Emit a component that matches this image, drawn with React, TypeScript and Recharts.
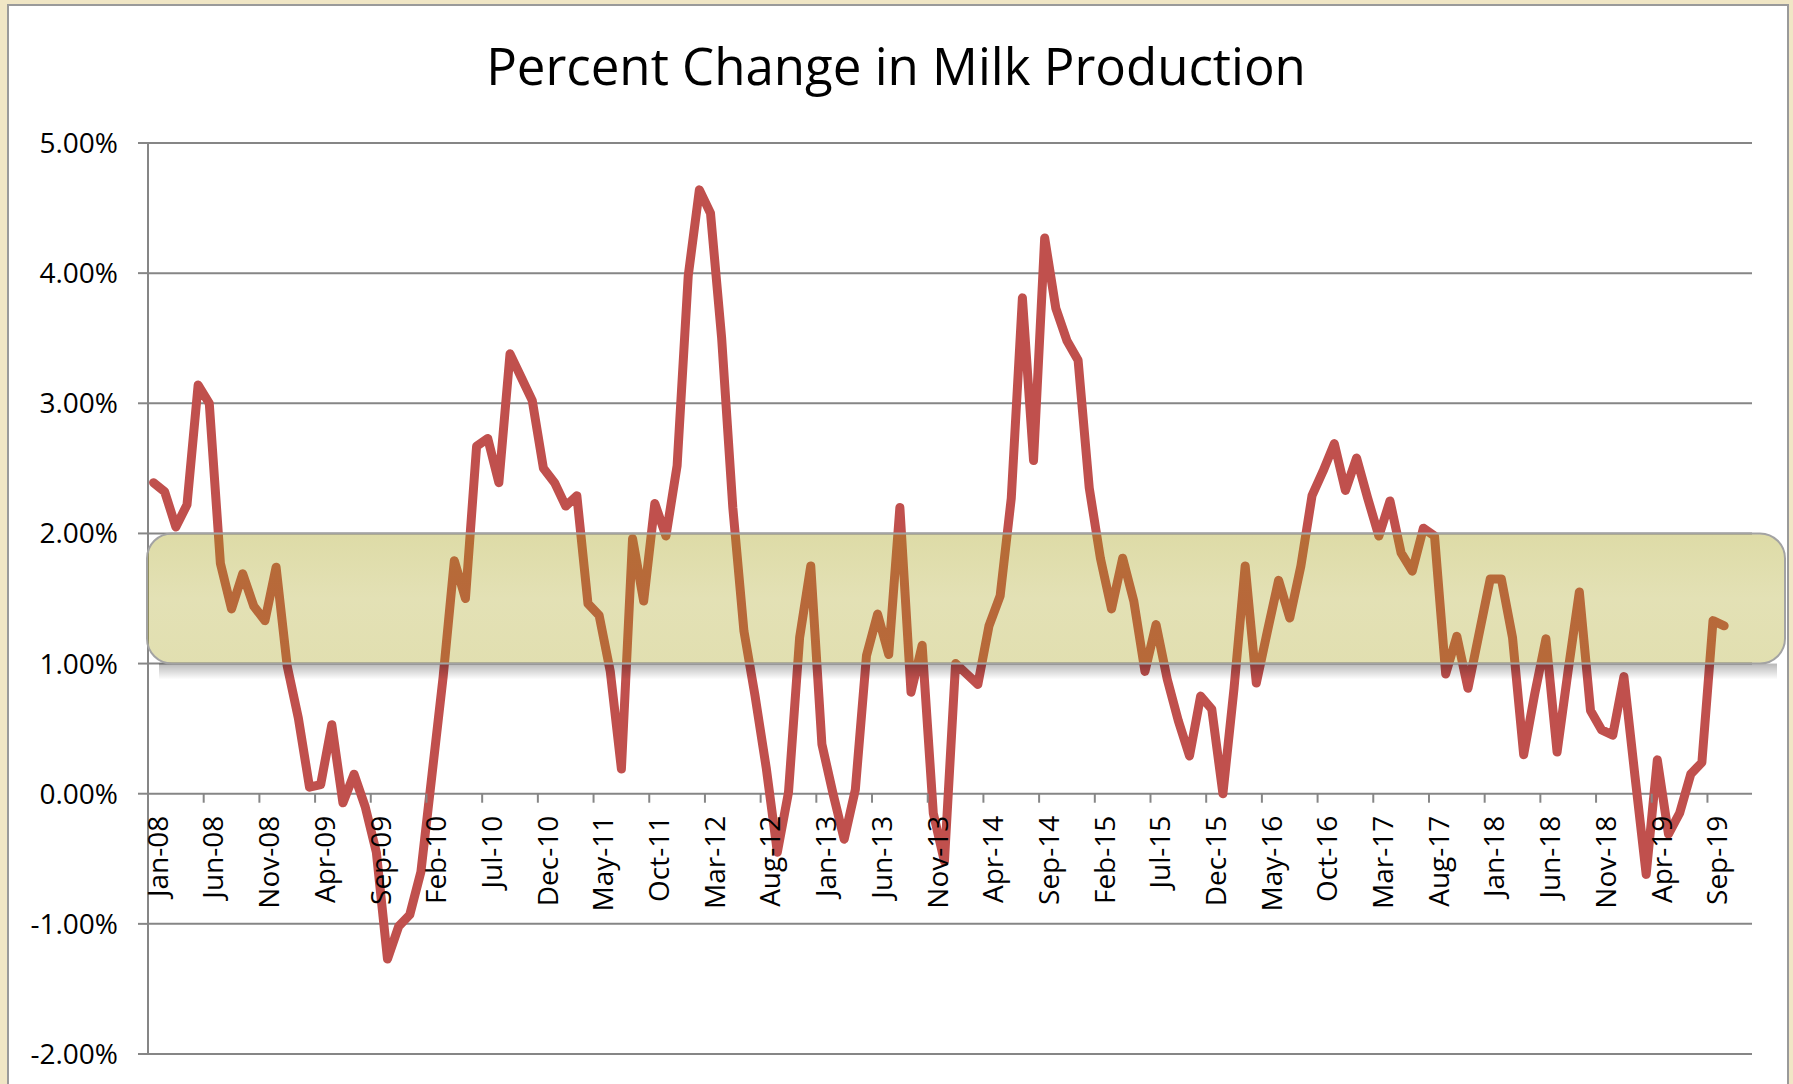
import React from "react";
import {
  LineChart,
  Line,
  XAxis,
  YAxis,
  CartesianGrid,
  ReferenceArea,
} from "recharts";

// categories: every month of 2008-2019 (data stops at Oct-19)
const YEARS = ["08", "09", "10", "11", "12", "13", "14", "15", "16", "17", "18", "19"];
const MONTH_NAMES = ["Jan", "Feb", "Mar", "Apr", "May", "Jun", "Jul", "Aug", "Sep", "Oct", "Nov", "Dec"];
const MONTHS = YEARS.flatMap((y) => MONTH_NAMES.map((m) => `${m}-${y}`));

// year-over-year % change in milk production, Jan-08 .. Oct-19
const PCT_CHANGE = [
  2.39, 2.32, 2.05, 2.22, 3.14, 3.0, 1.77, 1.42, 1.69, 1.44, 1.33, 1.74,
  0.98, 0.58, 0.05, 0.07, 0.53, -0.07, 0.15, -0.1, -0.45, -1.27, -1.02, -0.93,
  -0.6, 0.15, 0.9, 1.79, 1.5, 2.67, 2.73, 2.39, 3.38, 3.2, 3.02, 2.5,
  2.39, 2.21, 2.29, 1.46, 1.37, 0.94, 0.19, 1.96, 1.48, 2.23, 1.98, 2.52,
  3.98, 4.64, 4.46, 3.5, 2.2, 1.25, 0.75, 0.2, -0.45, 0.01, 1.2, 1.75,
  0.38, 0.0, -0.35, 0.03, 1.06, 1.38, 1.07, 2.2, 0.78, 1.14, -0.15, -0.52,
  1.0, 0.92, 0.84, 1.29, 1.52, 2.27, 3.81, 2.56, 4.27, 3.73, 3.48, 3.33,
  2.35, 1.81, 1.42, 1.81, 1.48, 0.94, 1.3, 0.88, 0.56, 0.29, 0.75, 0.65,
  0.0, 0.81, 1.75, 0.85, 1.25, 1.64, 1.35, 1.75, 2.29, 2.48, 2.69, 2.33,
  2.58, 2.27, 1.98, 2.25, 1.85, 1.71, 2.04, 1.98, 0.92, 1.21, 0.81, 1.23,
  1.65, 1.65, 1.2, 0.3, 0.77, 1.19, 0.32, 0.95, 1.55, 0.64, 0.49, 0.45,
  0.9, 0.13, -0.62, 0.26, -0.31, -0.15, 0.15, 0.24, 1.33, 1.29,
];

const Y_TICKS = [-2, -1, 0, 1, 2, 3, 4, 5];
const X_TICKS = MONTHS.map((_, i) => i).filter((i) => i % 5 === 0);
const TARGET_BAND = [1, 2]; // shaded 1%-2% range

const data = PCT_CHANGE.map((v, i) => ({ pos: i + 0.5, month: MONTHS[i], value: v }));

const W = 1793;
const H = 1084;
const X_AXIS_H = 1;
const MARGIN = { top: 143, right: 41, bottom: 29, left: 0 };
const PLOT_H = H - MARGIN.top - MARGIN.bottom - X_AXIS_H;
const Y_MIN = Y_TICKS[0];
const Y_MAX = Y_TICKS[Y_TICKS.length - 1];
// pixel row of the 0% line, where Excel puts the category axis
const ZERO_Y = MARGIN.top + (PLOT_H * Y_MAX) / (Y_MAX - Y_MIN);

const GRID = "#868686";
const FONT = "'Open Sans', 'Noto Sans', sans-serif";

function MonthTick(props: any) {
  const { x, payload } = props;
  const lx = x + 10;
  const ly = ZERO_Y + 22;
  return (
    <g>
      {payload.value > 0 && (
        <line x1={x} x2={x} y1={ZERO_Y} y2={ZERO_Y + 9} stroke={GRID} strokeWidth={2} />
      )}
      <text
        x={lx}
        y={ly}
        dy="0.35em"
        textAnchor="end"
        transform={`rotate(-90 ${lx} ${ly})`}
        fontFamily={FONT}
        fontSize={28}
        fill="#000"
      >
        {MONTHS[payload.value]}
      </text>
    </g>
  );
}

function BandShape(props: any) {
  const { x, y, width, height } = props;
  const bx = x - 1;
  const bw = width + 34;
  return (
    <g>
      <defs>
        <linearGradient id="bandShadow" x1="0" y1="0" x2="0" y2="1">
          <stop offset="0%" stopColor="#000" stopOpacity={0.28} />
          <stop offset="100%" stopColor="#000" stopOpacity={0} />
        </linearGradient>
        <linearGradient id="bandFill" x1="0" y1="0" x2="0" y2="1">
          <stop offset="0%" stopColor="#A59E10" stopOpacity={0.37} />
          <stop offset="50%" stopColor="#A59E10" stopOpacity={0.31} />
          <stop offset="100%" stopColor="#A59E10" stopOpacity={0.33} />
        </linearGradient>
      </defs>
      <rect x={bx + 12} y={y + height} width={bw - 20} height={16} fill="url(#bandShadow)" />
      <rect
        x={bx}
        y={y}
        width={bw}
        height={height}
        rx={25}
        ry={25}
        fill="url(#bandFill)"
        stroke="#A3A3A3"
        strokeWidth={2}
      />
    </g>
  );
}

export default function App() {
  return (
    <div
      style={{
        position: "absolute",
        left: 0,
        top: 0,
        width: W,
        height: H,
        overflow: "hidden",
        background: "#F0E6C5",
      }}
    >
      <div
        style={{
          position: "absolute",
          left: 7,
          top: 4,
          width: 1778,
          height: 1120,
          background: "#fff",
          border: "2px solid #9A9A9A",
        }}
      />
      <div style={{ position: "absolute", left: 0, top: 0 }}>
        <LineChart width={W} height={H} data={data} margin={MARGIN}>
          <CartesianGrid vertical={false} stroke={GRID} strokeWidth={2} />
          <XAxis
            type="number"
            dataKey="pos"
            domain={[0, MONTHS.length]}
            ticks={X_TICKS}
            interval={0}
            height={X_AXIS_H}
            axisLine={false}
            tickLine={false}
            tick={<MonthTick />}
          />
          <YAxis
            type="number"
            domain={[Y_MIN, Y_MAX]}
            ticks={Y_TICKS}
            interval={0}
            width={148}
            tickSize={10}
            tickMargin={20}
            axisLine={{ stroke: GRID, strokeWidth: 2 }}
            tickLine={{ stroke: GRID, strokeWidth: 2 }}
            tick={{ fill: "#000", fontSize: 28, fontFamily: FONT }}
            tickFormatter={(v: number) => `${v.toFixed(2)}%`}
          />
          <Line
            type="linear"
            dataKey="value"
            stroke="#C0504D"
            strokeWidth={9}
            strokeLinejoin="round"
            strokeLinecap="round"
            dot={false}
            activeDot={false}
            isAnimationActive={false}
          />
          <ReferenceArea
            y1={TARGET_BAND[0]}
            y2={TARGET_BAND[1]}
            ifOverflow="visible"
            zIndex={1000}
            shape={<BandShape />}
          />
        </LineChart>
      </div>
      <svg
        width={W}
        height={H}
        style={{ position: "absolute", left: 0, top: 0, pointerEvents: "none" }}
      >
        <text x={896} y={85} textAnchor="middle" fontFamily={FONT} fontSize={51} fill="#000">
          Percent Change in Milk Production
        </text>
      </svg>
    </div>
  );
}
